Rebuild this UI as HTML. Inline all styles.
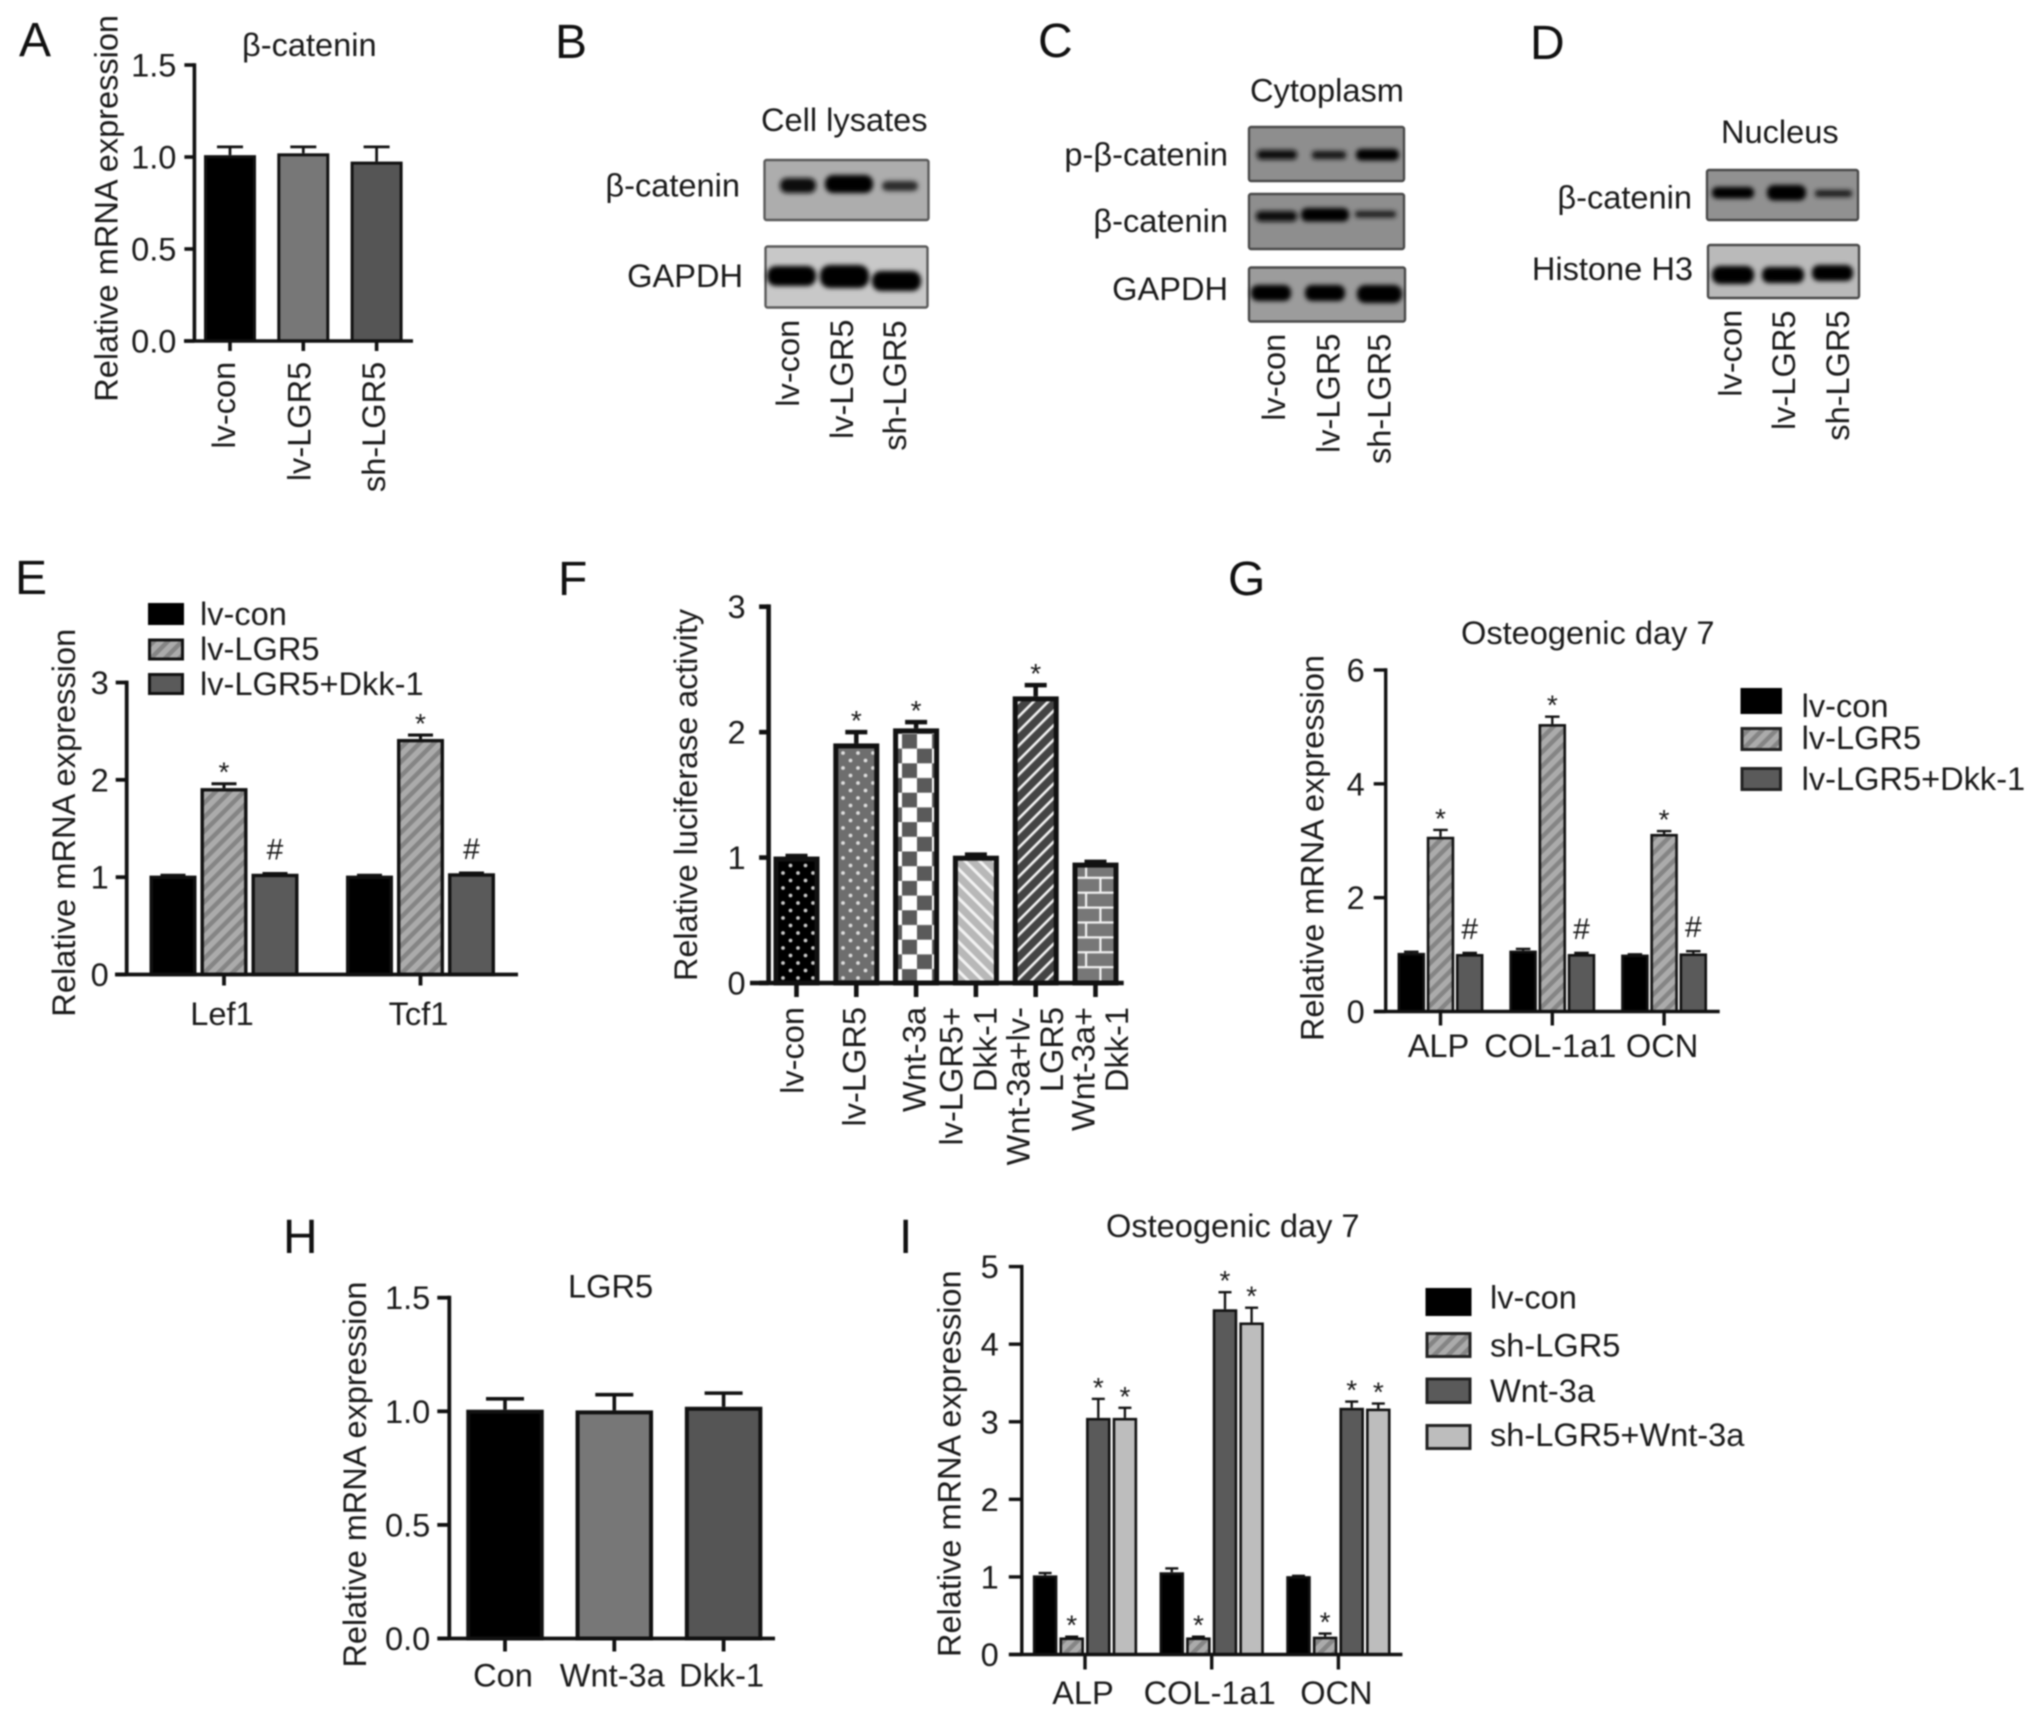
<!DOCTYPE html>
<html lang="en">
<head>
<meta charset="utf-8">
<title>LGR5 and beta-catenin multi-panel figure</title>
<style>
html,body{margin:0;padding:0;background:#fff;}
svg#figure{display:block;filter:blur(0.7px);}
text{font-family:"Liberation Sans",Arial,sans-serif;font-size:32.6px;fill:#1a1a1a;}
.letter{font-size:48px;fill:#111;}
.end{text-anchor:end;}
</style>
</head>
<body>
<svg id="figure" xmlns="http://www.w3.org/2000/svg" width="2032" height="1717" viewBox="0 0 2032 1717">
<defs>
  <filter id="band-blur" x="-30%" y="-70%" width="160%" height="240%"><feGaussianBlur stdDeviation="2.3"/></filter>
  <pattern id="hatch" patternUnits="userSpaceOnUse" width="10" height="10" patternTransform="rotate(45)">
    <rect width="10" height="10" fill="#ababab"/><rect width="4.5" height="10" fill="#858585"/>
  </pattern>
  <pattern id="dots-black" patternUnits="userSpaceOnUse" width="15" height="15">
    <rect width="15" height="15" fill="#000"/><circle cx="3" cy="3" r="1.9" fill="#c8c8c8"/><circle cx="10.5" cy="10.5" r="1.9" fill="#c8c8c8"/>
  </pattern>
  <pattern id="dots-grey" patternUnits="userSpaceOnUse" width="15" height="15">
    <rect width="15" height="15" fill="#6e6e6e"/><circle cx="3" cy="3" r="1.9" fill="#ddd"/><circle cx="10.5" cy="10.5" r="1.9" fill="#ddd"/>
  </pattern>
  <pattern id="checker" patternUnits="userSpaceOnUse" width="30" height="29.4" patternTransform="translate(2,28.3)">
    <rect width="30" height="29.4" fill="#fff"/><rect width="15" height="14.7" fill="#5a5a5a"/><rect x="15" y="14.7" width="15" height="14.7" fill="#5a5a5a"/>
  </pattern>
  <pattern id="diag-light" patternUnits="userSpaceOnUse" width="10.3" height="10.3" patternTransform="rotate(-45)">
    <rect width="10.3" height="10.3" fill="#b8b8b8"/><rect width="3" height="10.3" fill="#f2f2f2"/>
  </pattern>
  <pattern id="diag-dark" patternUnits="userSpaceOnUse" width="10.3" height="10.3" patternTransform="rotate(45)">
    <rect width="10.3" height="10.3" fill="#444"/><rect width="2.6" height="10.3" fill="#f2f2f2"/>
  </pattern>
  <pattern id="brick" patternUnits="userSpaceOnUse" width="30" height="29.8" patternTransform="translate(5,12.5)">
    <rect width="30" height="29.8" fill="#777"/>
    <rect y="0" width="30" height="2.2" fill="#f2f2f2"/><rect y="14.9" width="30" height="2.2" fill="#f2f2f2"/>
    <rect x="14.3" y="0" width="2.2" height="14.9" fill="#f2f2f2"/><rect x="0" y="14.9" width="2.2" height="14.9" fill="#f2f2f2"/>
  </pattern>
</defs>

<!-- Panel letters -->
<text class="letter" x="19" y="56">A</text>
<text class="letter" x="555" y="58">B</text>
<text class="letter" x="1038" y="57">C</text>
<text class="letter" x="1530" y="59">D</text>
<text class="letter" x="15" y="594">E</text>
<text class="letter" x="558" y="595">F</text>
<text class="letter" x="1228" y="595">G</text>
<text class="letter" x="283" y="1253">H</text>
<text class="letter" x="899" y="1253">I</text>

<!-- Panel A titles -->
<text x="242" y="56">β-catenin</text>
<text transform="translate(117.3,401.7) rotate(-90)" textLength="386.7" lengthAdjust="spacingAndGlyphs">Relative mRNA expression</text>
<g id="chart-a"></g>

<!-- Panel B blots -->
<g>
  <text x="761" y="131">Cell lysates</text>
  <text class="end" x="740" y="196.7">β-catenin</text>
  <text class="end" x="743" y="287">GAPDH</text>
  <rect x="764.5" y="160" width="164" height="60" rx="2" fill="#adadad" stroke="#5a5a5a" stroke-width="2.4"/>
  <g filter="url(#band-blur)">
    <rect x="780" y="178" width="36" height="15" rx="7" fill="#0d0d0d"/>
    <rect x="825" y="175" width="48" height="18" rx="8" fill="#060606"/>
    <rect x="882" y="181" width="36" height="10" rx="5" fill="#2c2c2c"/>
  </g>
  <rect x="765.5" y="246.5" width="162" height="61" rx="2" fill="#c8c8c8" stroke="#5a5a5a" stroke-width="2.4"/>
  <g filter="url(#band-blur)">
    <rect x="767" y="266" width="49" height="20" rx="9" fill="#000"/>
    <rect x="820" y="265" width="49" height="23" rx="10" fill="#000"/>
    <rect x="872" y="271" width="49" height="20" rx="9" fill="#000"/>
  </g>
  <text transform="translate(799,406.7) rotate(-90)">lv-con</text>
  <text transform="translate(853,439) rotate(-90)">lv-LGR5</text>
  <text transform="translate(906,450.7) rotate(-90)">sh-LGR5</text>
</g>

<!-- Panel C blots -->
<g>
  <text x="1250" y="101.7">Cytoplasm</text>
  <text class="end" x="1228" y="165.7">p-β-catenin</text>
  <text class="end" x="1228" y="232">β-catenin</text>
  <text class="end" x="1228" y="300">GAPDH</text>
  <rect x="1249" y="127" width="155" height="54" rx="2" fill="#8e8e8e" stroke="#4a4a4a" stroke-width="2.4"/>
  <g filter="url(#band-blur)">
    <rect x="1257" y="150" width="40" height="9.5" rx="4" fill="#0a0a0a"/>
    <rect x="1312" y="151" width="34" height="8" rx="3" fill="#161616"/>
    <rect x="1356" y="149" width="43" height="11.5" rx="5" fill="#050505"/>
  </g>
  <rect x="1249" y="194" width="155" height="55" rx="2" fill="#8e8e8e" stroke="#4a4a4a" stroke-width="2.4"/>
  <g filter="url(#band-blur)">
    <rect x="1256" y="211" width="41" height="10.5" rx="4.5" fill="#080808"/>
    <rect x="1301" y="208" width="48" height="13.5" rx="6" fill="#000"/>
    <rect x="1355" y="211" width="41" height="6.5" rx="2.5" fill="#1e1e1e"/>
  </g>
  <rect x="1249" y="267.5" width="156" height="54" rx="2" fill="#9c9c9c" stroke="#4a4a4a" stroke-width="2.4"/>
  <g filter="url(#band-blur)">
    <rect x="1251" y="285" width="40" height="16" rx="7" fill="#000"/>
    <rect x="1305" y="285" width="40" height="16" rx="7" fill="#000"/>
    <rect x="1357" y="285" width="45" height="18" rx="8" fill="#000"/>
  </g>
  <text transform="translate(1285,420.7) rotate(-90)">lv-con</text>
  <text transform="translate(1339.5,453) rotate(-90)">lv-LGR5</text>
  <text transform="translate(1390.5,464) rotate(-90)">sh-LGR5</text>
</g>

<!-- Panel D blots -->
<g>
  <text x="1721" y="143">Nucleus</text>
  <text class="end" x="1692" y="208.3">β-catenin</text>
  <text class="end" x="1693" y="280">Histone H3</text>
  <rect x="1707" y="170" width="151" height="50" rx="2" fill="#919191" stroke="#4a4a4a" stroke-width="2.4"/>
  <g filter="url(#band-blur)">
    <rect x="1712" y="187" width="42" height="11.5" rx="5" fill="#050505"/>
    <rect x="1767" y="185" width="39" height="15.5" rx="7" fill="#000"/>
    <rect x="1815" y="190" width="37" height="7" rx="2.7" fill="#1a1a1a"/>
  </g>
  <rect x="1708" y="245" width="151" height="53" rx="2" fill="#bababa" stroke="#4a4a4a" stroke-width="2.4"/>
  <g filter="url(#band-blur)">
    <rect x="1712" y="266" width="42" height="18" rx="8" fill="#000"/>
    <rect x="1762" y="267" width="42" height="16" rx="7" fill="#000"/>
    <rect x="1812" y="265" width="41" height="16" rx="7" fill="#000"/>
  </g>
  <text transform="translate(1741.7,396.7) rotate(-90)">lv-con</text>
  <text transform="translate(1795,430) rotate(-90)">lv-LGR5</text>
  <text transform="translate(1849,440.7) rotate(-90)">sh-LGR5</text>
</g>

<!-- Panel E -->
<text transform="translate(75,1016.7) rotate(-90)" textLength="388" lengthAdjust="spacingAndGlyphs">Relative mRNA expression</text>
<g id="chart-e"></g>
<g>
  <rect x="148" y="603" width="36" height="22" fill="#000"/>
  <text x="200" y="625">lv-con</text>
  <rect x="149.5" y="640" width="33" height="19" fill="url(#hatch)" stroke="#111" stroke-width="3"/>
  <text x="200" y="660">lv-LGR5</text>
  <rect x="149.5" y="674.5" width="33" height="19" fill="#5a5a5a" stroke="#111" stroke-width="3"/>
  <text x="200" y="695">lv-LGR5+Dkk-1</text>
</g>

<!-- Panel F -->
<text transform="translate(697,981) rotate(-90)" textLength="372" lengthAdjust="spacingAndGlyphs">Relative luciferase activity</text>
<g id="chart-f"></g>

<!-- Panel G -->
<text x="1461" y="644">Osteogenic day 7</text>
<text transform="translate(1323.6,1041) rotate(-90)" textLength="386" lengthAdjust="spacingAndGlyphs">Relative mRNA expression</text>
<g id="chart-g"></g>
<g>
  <rect x="1740.5" y="688" width="41.5" height="26" fill="#000"/>
  <text x="1801.6" y="717">lv-con</text>
  <rect x="1742" y="728.5" width="38.5" height="21" fill="url(#hatch)" stroke="#222" stroke-width="3"/>
  <text x="1801.6" y="749">lv-LGR5</text>
  <rect x="1742" y="768.5" width="38.5" height="21" fill="#5a5a5a" stroke="#222" stroke-width="3"/>
  <text x="1801.6" y="790">lv-LGR5+Dkk-1</text>
</g>

<!-- Panel H -->
<text x="568" y="1297.7">LGR5</text>
<text transform="translate(366,1667.5) rotate(-90)" textLength="386" lengthAdjust="spacingAndGlyphs">Relative mRNA expression</text>
<g id="chart-h"></g>

<!-- Panel I -->
<text x="1106" y="1237">Osteogenic day 7</text>
<text transform="translate(960.4,1657) rotate(-90)" textLength="386.6" lengthAdjust="spacingAndGlyphs">Relative mRNA expression</text>
<g id="chart-i"></g>
<g>
  <rect x="1425.5" y="1288" width="46" height="28" fill="#000"/>
  <text x="1490" y="1308.7">lv-con</text>
  <rect x="1427" y="1333.5" width="43" height="23" fill="url(#hatch)" stroke="#222" stroke-width="3"/>
  <text x="1490" y="1356.4">sh-LGR5</text>
  <rect x="1427" y="1379" width="43" height="23.5" fill="#5a5a5a" stroke="#222" stroke-width="3"/>
  <text x="1490" y="1401.8">Wnt-3a</text>
  <rect x="1427" y="1425.5" width="43" height="23" fill="#bdbdbd" stroke="#222" stroke-width="3"/>
  <text x="1490" y="1446">sh-LGR5+Wnt-3a</text>
</g>
</svg>

<script>
/* ---------- Panel A data ---------- */
const panelACategories = [['lv-con'], ['lv-LGR5'], ['sh-LGR5']];
const panelATicks = ['0.0', '0.5', '1.0', '1.5'];
const panelAValues = [1.01, 1.02, 0.975];
const panelAErrors = [0.045, 0.035, 0.08];

/* ---------- Panel E data ---------- */
const panelECategories = [['Lef1'], ['Tcf1']];
const panelETicks = ['0', '1', '2', '3'];
const panelELvCon = [1.016, 1.016];
const panelELvConErr = [0.003, 0.003];
const panelELvLgr5 = [1.915, 2.42];
const panelELvLgr5Err = [0.045, 0.04];
const panelEDkk = [1.035, 1.04];
const panelEDkkErr = [0.003, 0.003];
const panelELvConMarks = ['', ''];
const panelELvLgr5Marks = ['*', '*'];
const panelEDkkMarks = ['#', '#'];

/* ---------- Panel F data ---------- */
const panelFCategories = [['lv-con'], ['lv-LGR5'], ['Wnt-3a'], ['lv-LGR5+', 'Dkk-1'], ['Wnt-3a+lv-', 'LGR5'], ['Wnt-3a+', 'Dkk-1']];
const panelFTicks = ['0', '1', '2', '3'];
const panelFValues = [1.008, 1.91, 2.03, 1.015, 2.285, 0.96];
const panelFErrors = [0.004, 0.09, 0.05, 0.008, 0.09, 0.006];
const panelFMarks = ['', '*', '*', '', '*', ''];

/* ---------- Panel G data ---------- */
const panelGCategories = [['ALP'], ['COL-1a1'], ['OCN']];
const panelGTicks = ['0', '2', '4', '6'];
const panelGLvCon = [1.03, 1.07, 1.0];
const panelGLvConErr = [0.02, 0.03, 0.005];
const panelGLvLgr5 = [3.07, 5.05, 3.12];
const panelGLvLgr5Err = [0.12, 0.13, 0.05];
const panelGDkk = [1.01, 1.01, 1.02];
const panelGDkkErr = [0.02, 0.02, 0.04];
const panelGLvConMarks = ['', '', ''];
const panelGLvLgr5Marks = ['*', '*', '*'];
const panelGDkkMarks = ['#', '#', '#'];

/* ---------- Panel H data ---------- */
const panelHCategories = [['Con'], ['Wnt-3a'], ['Dkk-1']];
const panelHTicks = ['0.0', '0.5', '1.0', '1.5'];
const panelHValues = [1.007, 1.004, 1.02];
const panelHErrors = [0.048, 0.069, 0.06];

/* ---------- Panel I data ---------- */
const panelICategories = [['ALP'], ['COL-1a1'], ['OCN']];
const panelITicks = ['0', '1', '2', '3', '4', '5'];
const panelILvCon = [1.02, 1.06, 1.01];
const panelILvConErr = [0.03, 0.05, 0.004];
const panelIShLgr5 = [0.22, 0.22, 0.23];
const panelIShLgr5Err = [0.01, 0.01, 0.04];
const panelIWnt = [3.05, 4.45, 3.18];
const panelIWntErr = [0.245, 0.22, 0.08];
const panelIShWnt = [3.05, 4.28, 3.17];
const panelIShWntErr = [0.13, 0.19, 0.065];
const panelILvConMarks = ['', '', ''];
const panelIShLgr5Marks = ['*', '*', '*'];
const panelIWntMarks = ['*', '*', '*'];
const panelIShWntMarks = ['*', '*', '*'];

/* ---------- Layout (pixel geometry, separate from data) ---------- */
const layoutA = {axisX:194.4, base:341, top:65, xAxisLeft:184, xAxisRight:413, tickLeft:10, tickDown:10, axisW:3.6, barStroke:3, firstX:230, stepX:73.3, barStep:0, barW:52, capW:26, labelGap:18, rotated:true, labelEnd:361.7, labelNudge:[5, 7.4, 8.5]};
const layoutE = {axisX:126.7, base:974.5, top:682.5, xAxisLeft:115, xAxisRight:518, tickLeft:11, tickDown:11, axisW:3.8, barStroke:3.4, firstX:224, stepX:196.5, barStep:51, barW:47, capW:25, labelGap:18, labelBase:1025, labelShift:-2};
const layoutF = {axisX:768.6, base:983, top:606.7, xAxisLeft:750, xAxisRight:1123.7, tickLeft:9.5, tickDown:14, axisW:4.6, barStroke:5, firstX:796.5, stepX:59.8, barStep:0, barW:46, capW:22, labelGap:23, rotated:true, labelEnd:1007, lineGap:33.7, labelNudge:[7, 9.4, 9.3, -13.2, -6.4, -1]};
const layoutG = {axisX:1385.7, base:1011.5, top:670, xAxisLeft:1374, xAxisRight:1719.7, tickLeft:12, tickDown:14, axisW:3.4, barStroke:2.6, firstX:1440.5, stepX:111.8, barStep:29.2, barW:27.5, capW:14.5, labelGap:21, labelBase:1057, labelShift:-2};
const layoutH = {axisX:449.3, base:1638.5, top:1297.7, xAxisLeft:437.5, xAxisRight:775, tickLeft:12, tickDown:13, axisW:3.8, barStroke:4, firstX:505, stepX:109.3, barStep:0, barW:77.5, capW:38, labelGap:19, labelBase:1686.7, labelShift:-2};
const layoutI = {axisX:1021.8, base:1654.5, top:1266.6, xAxisLeft:1009, xAxisRight:1402.4, tickLeft:13, tickDown:15, axisW:3.4, barStroke:2.6, firstX:1085, stepX:126.7, barStep:26.6, barW:24.5, capW:13, labelGap:23, labelBase:1704, labelShift:-2};

/* ---------- Drawing ---------- */
const SVG_NS = 'http://www.w3.org/2000/svg';
const INK = '#111';

function mk(tag, parent) {
  const el = document.createElementNS(SVG_NS, tag);
  parent.appendChild(el);
  return el;
}

function drawChart(id, L, ticks, categories, series, errors, marks, fills) {
  const root = document.getElementById(id);
  const yMax = parseFloat(ticks[ticks.length - 1]);
  const yScale = v => L.base - (v / yMax) * (L.base - L.top);
  const groupX = g => L.firstX + g * L.stepX;
  const barX = (g, s) => groupX(g) + (s - (series.length - 1) / 2) * L.barStep;

  series.forEach((vals, s) => {
    vals.forEach((v, g) => {
      const cx = barX(g, s);
      const errTop = yScale(v + errors[s][g]);
      const top = yScale(v);
      const fill = series.length === 1 ? fills[g] : fills[s];

      const stem = mk('line', root);
      
      
      stem.setAttribute('x1', cx);
      stem.setAttribute('x2', cx);
      stem.setAttribute('y1', top);
      stem.setAttribute('y2', errTop);
      stem.setAttribute('stroke', INK);
      stem.setAttribute('stroke-width', L.barStroke * 0.9);

      const cap = mk('line', root);
      
      
      cap.setAttribute('x1', cx - L.capW / 2);
      cap.setAttribute('x2', cx + L.capW / 2);
      cap.setAttribute('y1', errTop);
      cap.setAttribute('y2', errTop);
      cap.setAttribute('stroke', INK);
      cap.setAttribute('stroke-width', L.barStroke * 0.9);

      const bar = mk('rect', root);
      
      
      bar.setAttribute('x', cx - L.barW / 2 + L.barStroke / 2);
      bar.setAttribute('y', top + L.barStroke / 2);
      bar.setAttribute('width', L.barW - L.barStroke);
      bar.setAttribute('height', Math.max(0, L.base - top - L.barStroke / 2));
      bar.setAttribute('fill', fill);
      bar.setAttribute('stroke', INK);
      bar.setAttribute('stroke-width', L.barStroke);

      const mark = marks ? marks[s][g] : '';
      if (mark) {
        const note = mk('text', root);
        
        
        note.setAttribute('text-anchor', 'middle');
        note.setAttribute('x', cx);
        if (mark === '#') {
          note.setAttribute('y', errTop - 25 + 11);
          note.style.fontSize = '30px';
        } else {
          note.setAttribute('y', errTop - 18 + 16);
          note.style.fontSize = '28px';
        }
        note.textContent = mark;
      }
    });
  });

  const yAxis = mk('line', root);
  
  
  yAxis.setAttribute('x1', L.axisX);
  yAxis.setAttribute('x2', L.axisX);
  yAxis.setAttribute('y1', L.top - L.axisW / 2);
  yAxis.setAttribute('y2', L.base);
  yAxis.setAttribute('stroke', INK);
  yAxis.setAttribute('stroke-width', L.axisW);

  const xAxis = mk('line', root);
  
  
  xAxis.setAttribute('x1', L.xAxisLeft);
  xAxis.setAttribute('x2', L.xAxisRight);
  xAxis.setAttribute('y1', L.base);
  xAxis.setAttribute('y2', L.base);
  xAxis.setAttribute('stroke', INK);
  xAxis.setAttribute('stroke-width', L.axisW);

  ticks.forEach(label => {
    const t = parseFloat(label);
    const tick = mk('line', root);
    
    
    tick.setAttribute('x1', L.axisX - L.tickLeft);
    tick.setAttribute('x2', L.axisX);
    tick.setAttribute('y1', yScale(t));
    tick.setAttribute('y2', yScale(t));
    tick.setAttribute('stroke', INK);
    tick.setAttribute('stroke-width', L.axisW);

    const txt = mk('text', root);
    
    
    txt.setAttribute('text-anchor', 'end');
    txt.setAttribute('x', L.axisX - L.labelGap);
    txt.setAttribute('y', yScale(t) + 11.5);
    txt.textContent = label;
  });

  categories.forEach((lines, g) => {
    const cx = groupX(g);
    const tick = mk('line', root);
    
    
    tick.setAttribute('x1', cx);
    tick.setAttribute('x2', cx);
    tick.setAttribute('y1', L.base);
    tick.setAttribute('y2', L.base + L.tickDown);
    tick.setAttribute('stroke', INK);
    tick.setAttribute('stroke-width', L.axisW);

    lines.forEach((line, k) => {
      const txt = mk('text', root);
      
      
      if (L.rotated) {
        const bx = cx + L.labelNudge[g] + k * (L.lineGap || 0);
        txt.setAttribute('text-anchor', 'end');
        txt.setAttribute('transform', 'translate(' + bx + ',' + L.labelEnd + ') rotate(-90)');
      } else {
        txt.setAttribute('text-anchor', 'middle');
        txt.setAttribute('x', cx + L.labelShift);
        txt.setAttribute('y', L.labelBase);
      }
      txt.textContent = line;
    });
  });
}

drawChart('chart-a', layoutA, panelATicks, panelACategories,
  [panelAValues], [panelAErrors], null, ['#000', '#777', '#555']);

drawChart('chart-e', layoutE, panelETicks, panelECategories,
  [panelELvCon, panelELvLgr5, panelEDkk],
  [panelELvConErr, panelELvLgr5Err, panelEDkkErr],
  [panelELvConMarks, panelELvLgr5Marks, panelEDkkMarks],
  ['#000', 'url(#hatch)', '#5a5a5a']);

drawChart('chart-f', layoutF, panelFTicks, panelFCategories,
  [panelFValues], [panelFErrors], [panelFMarks],
  ['url(#dots-black)', 'url(#dots-grey)', 'url(#checker)', 'url(#diag-light)', 'url(#diag-dark)', 'url(#brick)']);

drawChart('chart-g', layoutG, panelGTicks, panelGCategories,
  [panelGLvCon, panelGLvLgr5, panelGDkk],
  [panelGLvConErr, panelGLvLgr5Err, panelGDkkErr],
  [panelGLvConMarks, panelGLvLgr5Marks, panelGDkkMarks],
  ['#000', 'url(#hatch)', '#5a5a5a']);

drawChart('chart-h', layoutH, panelHTicks, panelHCategories,
  [panelHValues], [panelHErrors], null, ['#000', '#777', '#555']);

drawChart('chart-i', layoutI, panelITicks, panelICategories,
  [panelILvCon, panelIShLgr5, panelIWnt, panelIShWnt],
  [panelILvConErr, panelIShLgr5Err, panelIWntErr, panelIShWntErr],
  [panelILvConMarks, panelIShLgr5Marks, panelIWntMarks, panelIShWntMarks],
  ['#000', 'url(#hatch)', '#5a5a5a', '#bdbdbd']);
</script>
</body>
</html>
